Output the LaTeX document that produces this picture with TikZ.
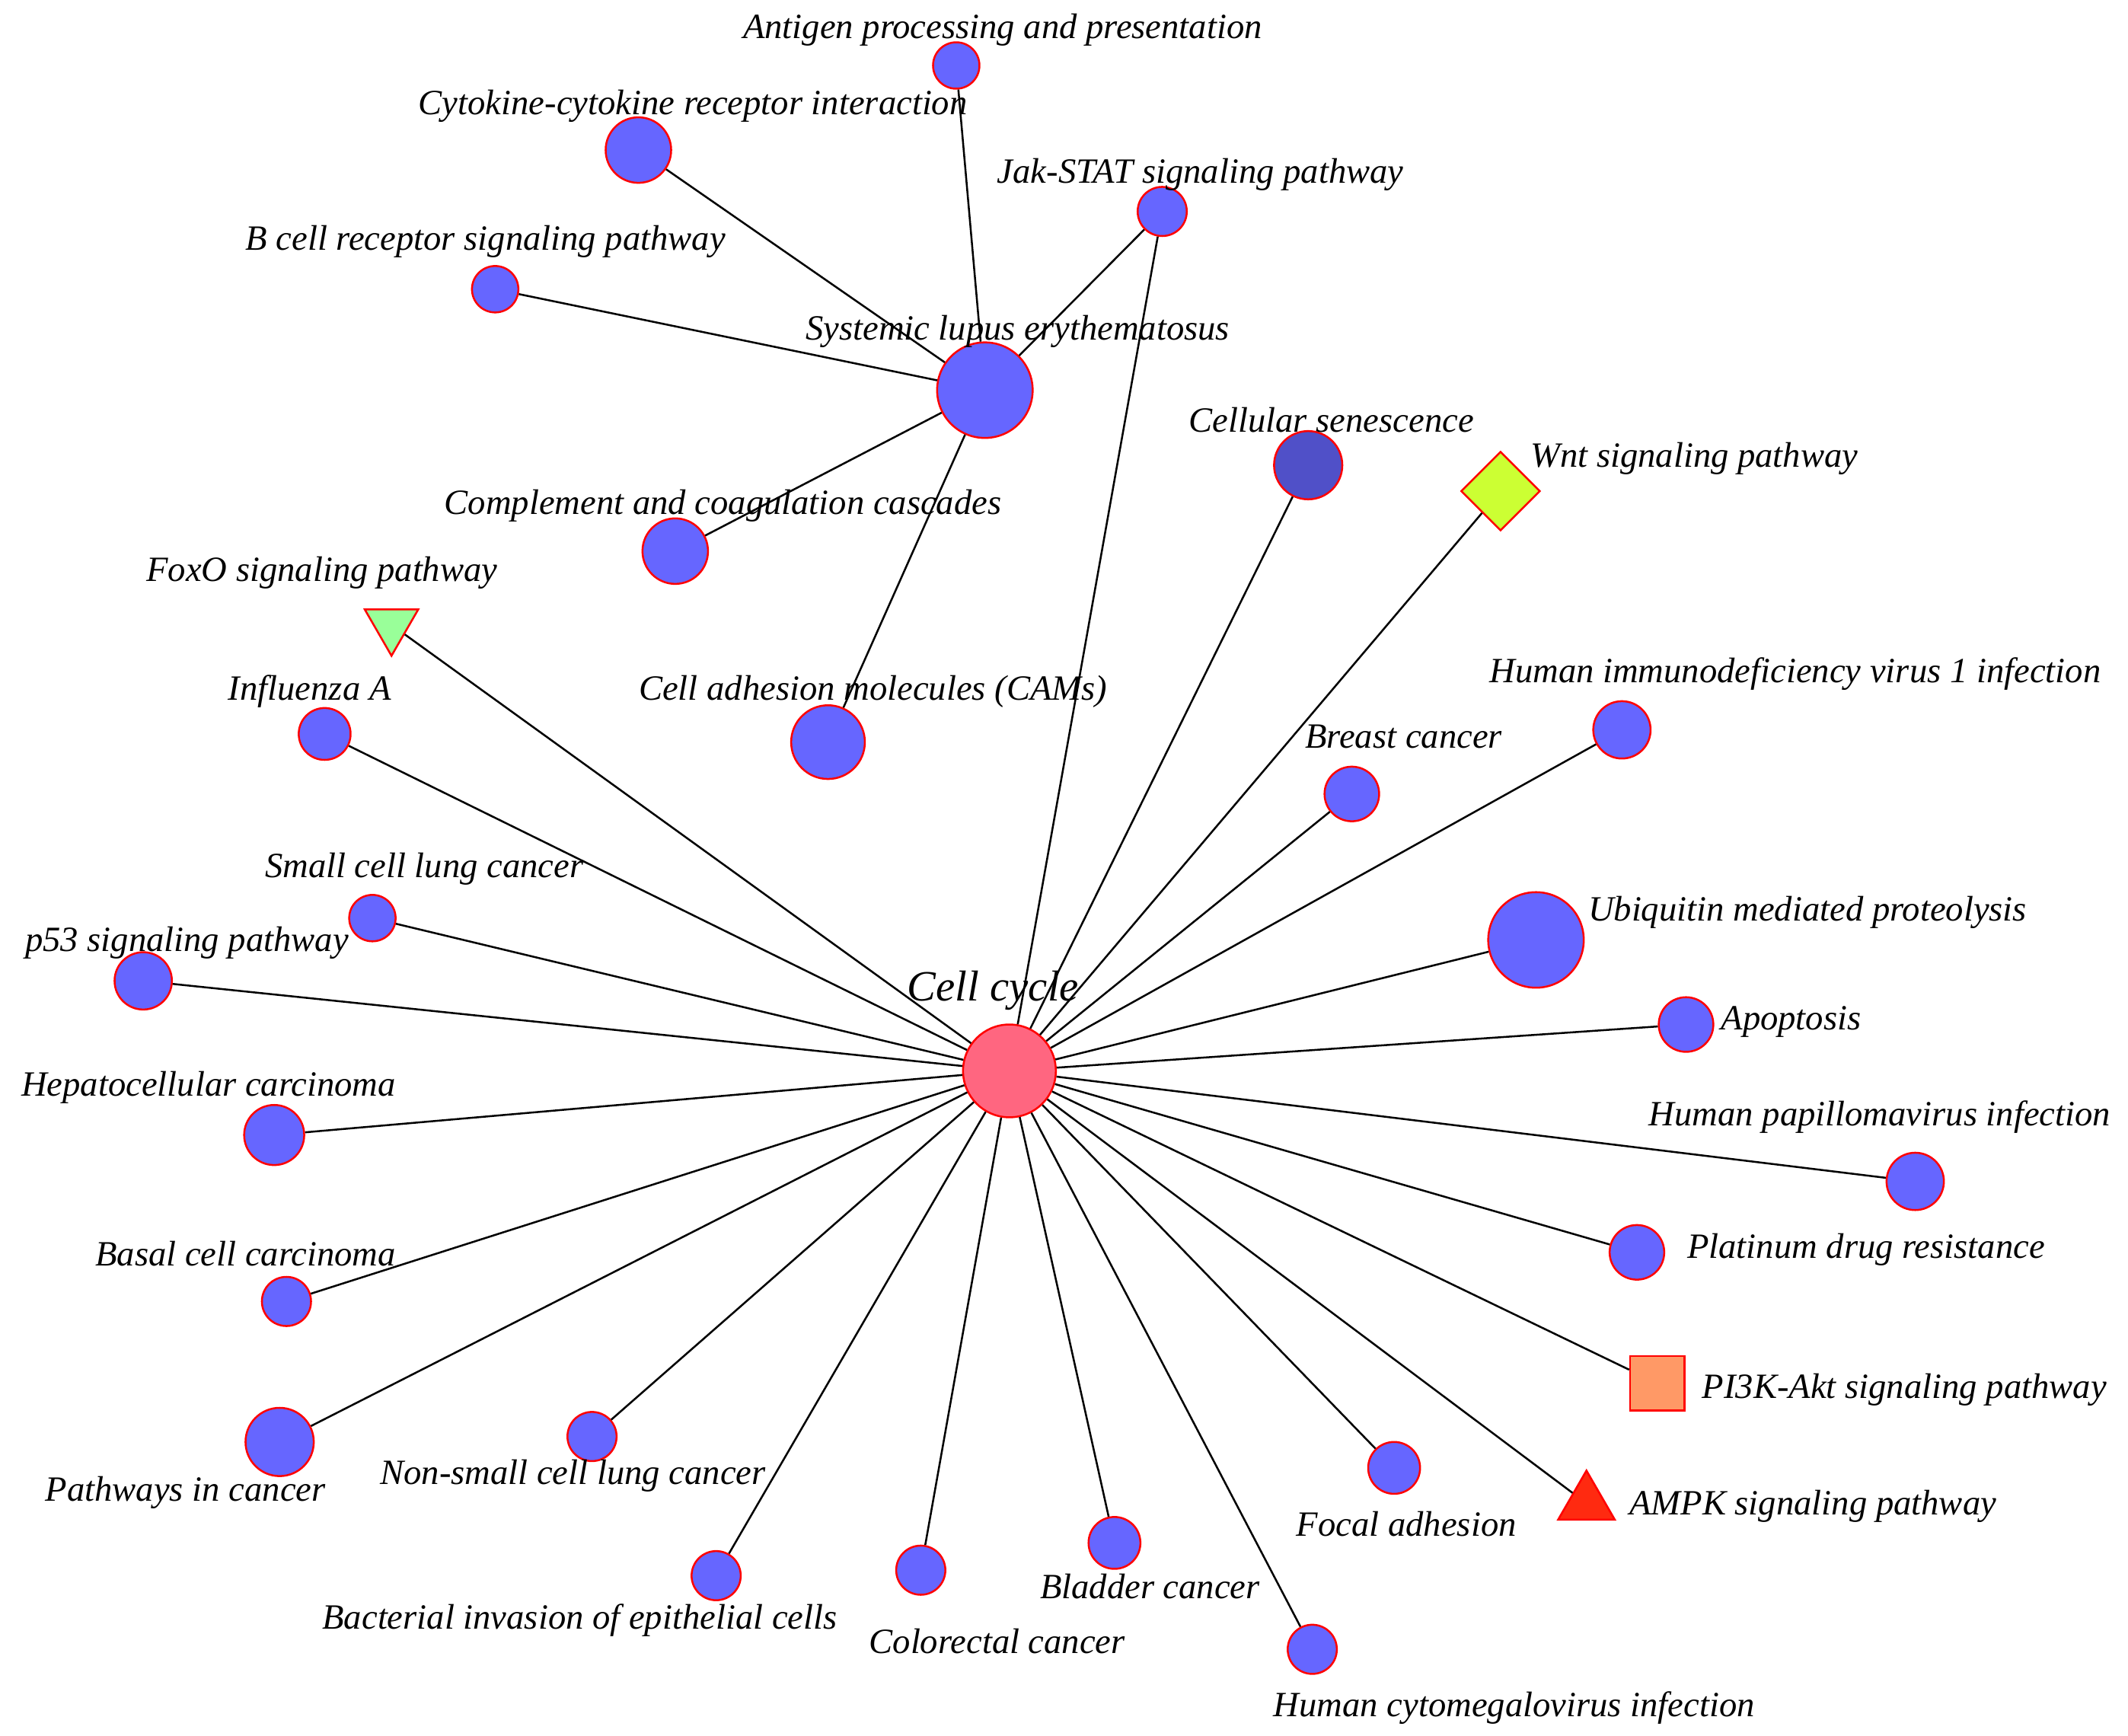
\documentclass[tikz,border=0pt]{standalone}
\usepackage{fontspec}
\setmainfont{Liberation Serif}
\usetikzlibrary{shapes.geometric}
\definecolor{pwblue}{HTML}{6666FF}
\definecolor{pwdark}{HTML}{5050C8}
\definecolor{hubpink}{HTML}{FF6680}
\definecolor{wntgreen}{HTML}{CCFF33}
\definecolor{foxgreen}{HTML}{99FF99}
\definecolor{pisq}{HTML}{FF9966}
\definecolor{ampkred}{HTML}{FF2A10}
\begin{document}
\begin{tikzpicture}[x=0.01cm, y=-0.01cm, thin,
    pw/.style={circle, draw=red, fill=pwblue, minimum size=#1, inner sep=0pt},
    lab/.style={font=\fontsize{7.4}{9}\selectfont\itshape, inner sep=0pt}]
\useasboundingbox (0,0) rectangle (1560,1272);

    \node[pw=0.68cm, fill=hubpink] (cc) at (740,785) {};
    \node[pw=0.70cm] (sle) at (722,286) {};
    \node[pw=0.34cm] (ant) at (701,48) {};
    \node[pw=0.48cm] (cyt) at (468,110) {};
    \node[pw=0.36cm] (jak) at (852,155) {};
    \node[pw=0.34cm] (bcr) at (363,212) {};
    \node[pw=0.48cm] (comp) at (495,404) {};
    \node[pw=0.54cm] (cam) at (607,544) {};
    \node[pw=0.50cm, fill=pwdark] (sen) at (959,341) {};
    \node[diamond, draw=red, fill=wntgreen, minimum size=0.58cm, inner sep=0pt] (wnt) at (1100,360) {};
    \node[isosceles triangle, isosceles triangle apex angle=60, shape border rotate=-90, draw=red, fill=foxgreen, minimum size=0.34cm, inner sep=0pt] (fox) at (287,458) {};
    \node[pw=0.38cm] (flu) at (238,538) {};
    \node[pw=0.42cm] (hiv) at (1189,535) {};
    \node[pw=0.40cm] (brc) at (991,582) {};
    \node[pw=0.70cm] (ubi) at (1126,689) {};
    \node[pw=0.34cm] (sclc) at (273,673) {};
    \node[pw=0.42cm] (p53) at (105,719) {};
    \node[pw=0.40cm] (apo) at (1236,751) {};
    \node[pw=0.44cm] (hcc) at (201,832) {};
    \node[pw=0.42cm] (hpv) at (1404,866) {};
    \node[pw=0.40cm] (plat) at (1200,918) {};
    \node[pw=0.36cm] (bcc) at (210,954) {};
    \node[rectangle, draw=red, fill=pisq, minimum size=0.40cm, inner sep=0pt] (pi3k) at (1215,1014) {};
    \node[pw=0.50cm] (pic) at (205,1057) {};
    \node[pw=0.36cm] (nsclc) at (434,1053) {};
    \node[pw=0.38cm] (foc) at (1022,1076) {};
    \node[isosceles triangle, isosceles triangle apex angle=60, shape border rotate=90, draw=red, fill=ampkred, minimum size=0.36cm, inner sep=0pt] (ampk) at (1163,1102) {};
    \node[pw=0.36cm] (bact) at (525,1155) {};
    \node[pw=0.36cm] (crc) at (675,1151) {};
    \node[pw=0.38cm] (blad) at (817,1131) {};
    \node[pw=0.36cm] (hcmv) at (962,1209) {};

    % labels
    \node[lab] (l-ant) at (735,22) {Antigen processing and presentation};
    \node[lab] (l-cyt) at (508,78) {Cytokine-cytokine receptor interaction};
    \node[lab] (l-jak) at (880,128) {Jak-STAT signaling pathway};
    \node[lab] (l-bcr) at (356,177) {B cell receptor signaling pathway};
    \node[lab] (l-sle) at (746,243) {Systemic lupus erythematosus};
    \node[lab] (l-comp) at (530,371) {Complement and coagulation cascades};
    \node[lab] (l-sen) at (976,308) {Cellular senescence};
    \node[lab] (l-wnt) at (1242,336) {Wnt signaling pathway};
    \node[lab] (l-fox) at (236,420) {FoxO signaling pathway};
    \node[lab] (l-flu) at (227,507) {Influenza A};
    \node[lab] (l-cam) at (640,507) {Cell adhesion molecules (CAMs)};
    \node[lab] (l-hiv) at (1316,494) {Human immunodeficiency virus 1 infection};
    \node[lab] (l-brc) at (1029,540) {Breast cancer};
    \node[lab] (l-sclc) at (311,637) {Small cell lung cancer};
    \node[lab] (l-ubi) at (1325,669) {Ubiquitin mediated proteolysis};
    \node[lab] (l-p53) at (137,691) {p53 signaling pathway};
    \node[lab, font=\fontsize{9}{11}\selectfont\itshape] (l-cc) at (728,726) {Cell cycle};
    \node[lab] (l-apo) at (1313,749) {Apoptosis};
    \node[lab] (l-hcc) at (153,797) {Hepatocellular carcinoma};
    \node[lab] (l-hpv) at (1378,819) {Human papillomavirus infection};
    \node[lab] (l-plat) at (1368,916) {Platinum drug resistance};
    \node[lab] (l-bcc) at (180,919) {Basal cell carcinoma};
    \node[lab] (l-pi3k) at (1396,1019) {PI3K-Akt signaling pathway};
    \node[lab] (l-pic) at (136,1094) {Pathways in cancer};
    \node[lab] (l-nsclc) at (420,1082) {Non-small cell lung cancer};
    \node[lab] (l-foc) at (1031,1117) {Focal adhesion};
    \node[lab] (l-ampk) at (1329,1104) {AMPK signaling pathway};
    \node[lab] (l-blad) at (843,1163) {Bladder cancer};
    \node[lab] (l-bact) at (425,1188) {Bacterial invasion of epithelial cells};
    \node[lab] (l-crc) at (731,1203) {Colorectal cancer};
    \node[lab] (l-hcmv) at (1110,1252) {Human cytomegalovirus infection};

    \foreach \t in {ant,cyt,jak,bcr,comp,cam}
        \draw (sle) -- (\t);
    \foreach \t in {jak,sen,wnt,fox,flu,hiv,brc,ubi,sclc,p53,apo,hcc,hpv,plat,bcc,pi3k,pic,nsclc,foc,ampk,bact,crc,blad,hcmv}
        \draw (cc) -- (\t);
\end{tikzpicture}
\end{document}
